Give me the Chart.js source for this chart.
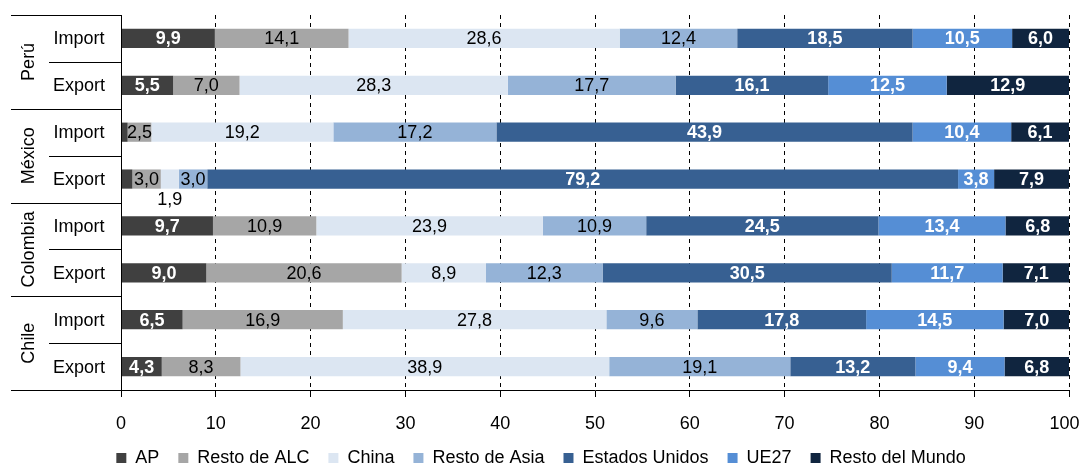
<!DOCTYPE html>
<html>
<head>
<meta charset="utf-8">
<script src="https://cdn.jsdelivr.net/npm/chart.js@4.4.1/dist/chart.umd.min.js"></script>
<style>
  html, body { margin: 0; padding: 0; background: #fff; }
  #wrap { width: 1082px; height: 464px; }
</style>
</head>
<body>
<div id="wrap"><canvas id="tradeChart"></canvas></div>
<script>
// Rows: country x flow, top to bottom
const countries = ["Perú", "México", "Colombia", "Chile"];
const flows = ["Import", "Export"];
const rowLabels = ["Perú Import", "Perú Export", "México Import", "México Export",
  "Colombia Import", "Colombia Export", "Chile Import", "Chile Export"];

// Share of trade by partner (%)
const ap = [9.9, 5.5, 0.7, 1.2, 9.7, 9.0, 6.5, 4.3];
const restoAlc = [14.1, 7.0, 2.5, 3.0, 10.9, 20.6, 16.9, 8.3];
const china = [28.6, 28.3, 19.2, 1.9, 23.9, 8.9, 27.8, 38.9];
const restoAsia = [12.4, 17.7, 17.2, 3.0, 10.9, 12.3, 9.6, 19.1];
const eeuu = [18.5, 16.1, 43.9, 79.2, 24.5, 30.5, 17.8, 13.2];
const ue27 = [10.5, 12.5, 10.4, 3.8, 13.4, 11.7, 14.5, 9.4];
const restoMundo = [6.0, 12.9, 6.1, 7.9, 6.8, 7.1, 7.0, 6.8];

const xTicks = [0, 10, 20, 30, 40, 50, 60, 70, 80, 90, 100];

const FONT = "'Liberation Sans', Arial, sans-serif";

const series = [
  { label: "AP", data: ap, color: "#404040", dark: true },
  { label: "Resto de ALC", data: restoAlc, color: "#a6a6a6", dark: false },
  { label: "China", data: china, color: "#dce6f2", dark: false },
  { label: "Resto de Asia", data: restoAsia, color: "#95b3d7", dark: false },
  { label: "Estados Unidos", data: eeuu, color: "#376092", dark: true },
  { label: "UE27", data: ue27, color: "#558ed5", dark: true },
  { label: "Resto del Mundo", data: restoMundo, color: "#10253f", dark: true },
];

function fmt(v) {
  return v.toFixed(1).replace(".", ",");
}

// value labels inside each segment (below the bar when it doesn't fit)
const segmentLabels = {
  id: "segmentLabels",
  afterDatasetsDraw(chart) {
    const ctx = chart.ctx;
    ctx.save();
    ctx.textAlign = "center";
    ctx.textBaseline = "middle";
    chart.data.datasets.forEach((ds, di) => {
      const meta = chart.getDatasetMeta(di);
      meta.data.forEach((bar, i) => {
        const v = ds.data[i];
        if (v < 1.5) return;
        const text = fmt(v);
        const w = Math.abs(bar.x - bar.base);
        const cx = (bar.x + bar.base) / 2;
        ctx.font = (ds.darkLabel ? "bold " : "") + "18px " + FONT;
        const tw = ctx.measureText(text).width;
        if (tw > w + 2) {
          ctx.font = "18px " + FONT;
          ctx.fillStyle = "#000";
          ctx.fillText(text, cx, bar.y + 21);
        } else {
          ctx.fillStyle = ds.darkLabel ? "#fff" : "#000";
          ctx.fillText(text, cx, bar.y + 1);
        }
      });
    });
    ctx.restore();
  },
};

// two-level category axis on the left: flow + rotated country name
const groupAxis = {
  id: "groupAxis",
  afterDraw(chart) {
    const ctx = chart.ctx;
    const area = chart.chartArea;
    const y = chart.scales.y;
    const step = (area.bottom - area.top) / rowLabels.length;
    ctx.save();
    ctx.strokeStyle = "#000";
    ctx.lineWidth = 1;
    ctx.beginPath();
    // solid axis line
    ctx.moveTo(Math.round(area.left) + 0.5, area.top);
    ctx.lineTo(Math.round(area.left) + 0.5, area.bottom);
    // group separators
    for (let g = 0; g <= countries.length; g++) {
      const yy = Math.round(area.top + g * step * flows.length) + 0.5;
      ctx.moveTo(11, yy);
      ctx.lineTo(area.left, yy);
    }
    for (let g = 0; g < countries.length; g++) {
      const yy = Math.round(area.top + (g * flows.length + 1) * step) + 0.5;
      ctx.moveTo(49, yy);
      ctx.lineTo(area.left, yy);
    }
    ctx.stroke();

    ctx.fillStyle = "#000";
    ctx.font = "18px " + FONT;
    ctx.textAlign = "center";
    ctx.textBaseline = "middle";
    rowLabels.forEach((_, i) => {
      ctx.fillText(flows[i % flows.length], 79, y.getPixelForValue(i) + 1);
    });
    countries.forEach((c, g) => {
      const cy = area.top + (g + 0.5) * step * flows.length;
      ctx.save();
      ctx.translate(29, cy);
      ctx.rotate(-Math.PI / 2);
      ctx.fillText(c, 0, 0);
      ctx.restore();
    });
    ctx.restore();
  },
};

const ctx = document.getElementById("tradeChart").getContext("2d");

new Chart(ctx, {
  type: "bar",
  data: {
    labels: rowLabels,
    datasets: series.map((s) => ({
      label: s.label,
      data: s.data,
      backgroundColor: s.color,
      borderWidth: 0,
      darkLabel: s.dark,
      categoryPercentage: 0.41,
      barPercentage: 1,
    })),
  },
  options: {
    indexAxis: "y",
    responsive: true,
    maintainAspectRatio: false,
    animation: false,
    layout: { padding: { left: 0, top: 15, right: 0, bottom: -13 } },
    scales: {
      x: {
        stacked: true,
        min: 0,
        max: 100,
        afterBuildTicks: (axis) => {
          axis.ticks = xTicks.map((v) => ({ value: v }));
        },
        afterFit: (axis) => {
          axis.height = 40;
          axis.paddingRight = 13;
        },
        ticks: {
          color: "#000",
          font: { family: FONT, size: 18 },
          padding: 16,
          maxRotation: 0,
          // keep the last label inside the canvas edge
          callback: (v) => (v === 100 ? v + "\u2002" : v),
        },
        grid: {
          color: "#000",
          lineWidth: 1,
          tickLength: 7,
          tickColor: "#000",
          tickBorderDash: [],
        },
        border: { display: true, color: "#000", width: 1, dash: [4, 4] },
      },
      y: {
        stacked: true,
        ticks: { display: false },
        grid: { display: false },
        border: { display: false },
        // room for the two-level category labels drawn by groupAxis
        afterFit: (axis) => {
          axis.width = 121;
        },
      },
    },
    plugins: {
      legend: {
        position: "bottom",
        labels: {
          color: "#000",
          font: { family: FONT, size: 18 },
          boxWidth: 10,
          boxHeight: 10,
          padding: 19,
        },
      },
      tooltip: { enabled: false },
    },
  },
  plugins: [segmentLabels, groupAxis],
});
</script>
</body>
</html>
